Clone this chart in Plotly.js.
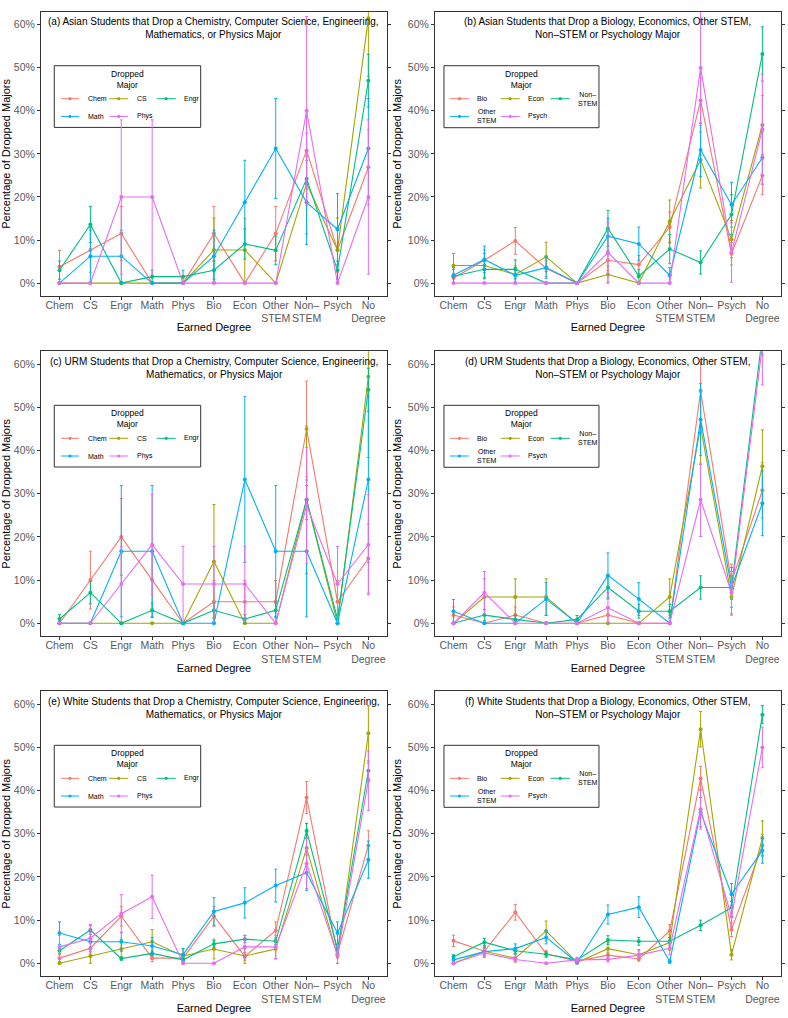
<!DOCTYPE html>
<html>
<head>
<meta charset="utf-8">
<script src="https://cdn.plot.ly/plotly-3.0.1.min.js"></script>
<style>
  html, body { margin: 0; padding: 0; background: #fff; }
  #chart { width: 788px; height: 1018px; }
</style>
</head>
<body>
<div id="chart"></div>
<script>
// categorias del eje x (titulo obtenido)
const degrees = ['Chem', 'CS', 'Engr', 'Math', 'Phys', 'Bio', 'Econ',
  'Other<br>STEM', 'Non–<br>STEM', 'Psych', 'No<br>Degree'];

// carreras abandonadas (leyendas)
const majorsPhysSci = ['Chem', 'CS', 'Engr', 'Math', 'Phys'];
const majorsOther = ['Bio', 'Econ', 'Non–<br>STEM', 'Other<br>STEM', 'Psych'];
const majorColors = ['#F8766D', '#A3A500', '#00BF7D', '#00B0F6', '#E76BF3'];

const yTicks = [0, 10, 20, 30, 40, 50, 60];
const yTickText = ['0%', '10%', '20%', '30%', '40%', '50%', '60%'];

const titles = [
  '(a) Asian Students that Drop a Chemistry, Computer Science, Engineering,<br>Mathematics, or Physics Major',
  '(b) Asian Students that Drop a Biology, Economics, Other STEM,<br>Non–STEM or Psychology Major',
  '(c) URM Students that Drop a Chemistry, Computer Science, Engineering,<br>Mathematics, or Physics Major',
  '(d) URM Students that Drop a Biology, Economics, Other STEM,<br>Non–STEM or Psychology Major',
  '(e) White Students that Drop a Chemistry, Computer Science, Engineering,<br>Mathematics, or Physics Major',
  '(f) White Students that Drop a Biology, Economics, Other STEM,<br>Non–STEM or Psychology Major'
];

// (a) Asian - Chem, CS, Engr, Math, Phys  (porcentaje y error estandar)
const pctA = [
  [3.8, 7.7, 11.5, 0, 0, 11.5, 0, 11.5, 30.8, 7.7, 26.9],
  [0, 0, 0, 0, 0, 7.7, 7.7, 0, 23.1, 7.7, 61.5],
  [3.0, 13.6, 0, 1.5, 1.5, 3.0, 9.1, 7.6, 24.2, 3.0, 47.0],
  [0, 6.25, 6.25, 0, 0, 6.25, 18.75, 31.25, 18.75, 12.5, 31.25],
  [0, 0, 20, 20, 0, 0, 0, 0, 40, 0, 20]
];
const seA = [
  [3.8, 5.2, 6.3, 0, 0, 6.3, 0, 6.3, 9.0, 5.2, 8.7],
  [0, 0, 0, 0, 0, 7.4, 7.4, 0, 11.7, 7.4, 13.5],
  [2.1, 4.2, 0, 1.5, 1.5, 2.1, 3.5, 3.3, 5.3, 2.1, 6.1],
  [0, 6.05, 6.05, 0, 0, 6.05, 9.76, 11.6, 9.76, 8.27, 11.6],
  [0, 0, 17.9, 17.9, 0, 0, 0, 0, 21.9, 0, 17.9]
];

// (b) Asian - Bio, Econ, Non-STEM, Other STEM, Psych
const pctB = [
  [1.2, 5.3, 9.8, 3.4, 0, 5.3, 4.3, 13.0, 42.4, 6.8, 25.0],
  [4.1, 4.1, 2.0, 6.1, 0, 2.0, 0, 14.3, 28.6, 10.2, 36.7],
  [1.6, 3.2, 3.2, 0, 0, 12.7, 1.6, 7.9, 4.8, 15.9, 53.2],
  [1.8, 5.5, 1.8, 3.6, 0, 10.9, 9.1, 1.8, 30.9, 18.2, 29.1],
  [0, 0, 0, 0, 0, 7.1, 0, 0, 50, 7.1, 35.7]
];
const seB = [
  [1.1, 2.4, 3.1, 1.9, 0, 2.4, 2.1, 3.5, 5.2, 2.6, 4.5],
  [2.8, 2.8, 2.0, 3.4, 0, 2.0, 0, 5.0, 6.5, 4.3, 6.9],
  [1.6, 2.2, 2.2, 0, 0, 4.2, 1.6, 3.4, 2.7, 4.6, 6.3],
  [1.8, 3.1, 1.8, 2.5, 0, 4.2, 3.9, 1.8, 6.2, 5.2, 6.1],
  [0, 0, 0, 0, 0, 6.9, 0, 0, 13.4, 6.9, 12.8]
];

// (c) URM - Chem, CS, Engr, Math, Phys
const pctC = [
  [0, 10, 20, 10, 0, 5, 5, 5, 45, 5, 15],
  [0, 0, 0, 0, 0, 14.3, 0, 0, 28.6, 0, 57.1],
  [1.0, 7.1, 0, 3.0, 0, 3.0, 1.0, 3.0, 28.6, 1.0, 54.1],
  [0, 0, 16.7, 16.7, 0, 0, 33.3, 16.7, 16.7, 0, 33.3],
  [0, 0, 9.1, 18.2, 9.1, 9.1, 9.1, 0, 27.3, 9.1, 18.2]
];
const seC = [
  [0, 6.7, 8.9, 6.7, 0, 4.9, 4.9, 4.9, 11.1, 4.9, 8.0],
  [0, 0, 0, 0, 0, 13.2, 0, 0, 17.1, 0, 18.7],
  [1.0, 2.6, 0, 1.7, 0, 1.7, 1.0, 1.7, 4.6, 1.0, 5.0],
  [0, 0, 15.2, 15.2, 0, 0, 19.2, 15.2, 15.2, 0, 19.2],
  [0, 0, 8.7, 11.6, 8.7, 8.7, 8.7, 0, 13.4, 8.7, 11.6]
];

// (d) URM - Bio, Econ, Non-STEM, Other STEM, Psych
const pctD = [
  [1.9, 0, 1.9, 0, 0, 1.9, 0, 0, 53.8, 9.6, 30.8],
  [0, 6.1, 6.1, 6.1, 0, 0, 0, 6.1, 45.5, 6.1, 36.4],
  [0, 1.9, 0.9, 0, 0.9, 8.3, 2.8, 2.8, 8.3, 8.3, 66.7],
  [2.8, 0, 0, 5.6, 0, 11.1, 5.6, 0, 47.2, 8.3, 27.8],
  [0, 7.1, 0, 0, 0, 3.6, 0, 0, 28.6, 7.1, 64.3]
];
const seD = [
  [1.9, 0, 1.9, 0, 0, 1.9, 0, 0, 6.9, 4.1, 6.4],
  [0, 4.2, 4.2, 4.2, 0, 0, 0, 4.2, 8.7, 4.2, 8.4],
  [0, 1.3, 0.9, 0, 0.9, 2.7, 1.6, 1.6, 2.7, 2.7, 4.5],
  [2.7, 0, 0, 3.8, 0, 5.2, 3.8, 0, 8.3, 4.6, 7.5],
  [0, 4.9, 0, 0, 0, 3.5, 0, 0, 8.5, 4.9, 9.1]
];

// (e) White - Chem, CS, Engr, Math, Phys
const pctE = [
  [1.2, 3.5, 10.9, 1.2, 1.2, 10.9, 1.6, 7.6, 38.4, 2.3, 27.3],
  [0, 1.7, 3.3, 5.0, 1.7, 3.3, 1.7, 3.3, 26.7, 1.7, 53.3],
  [2.9, 7.7, 1.1, 2.3, 0.8, 4.5, 5.6, 5.1, 30.7, 3.2, 44.6],
  [7, 5, 5, 4, 2, 12, 14, 18, 21, 7, 24],
  [3.8, 5.8, 11.5, 15.4, 0, 0, 3.8, 3.8, 23.1, 1.9, 42.3]
];
const seE = [
  [0.8, 1.4, 2.3, 0.8, 0.8, 2.3, 0.9, 2.0, 3.7, 1.1, 3.4],
  [0, 1.7, 2.3, 2.8, 1.7, 2.3, 1.7, 2.3, 5.7, 1.7, 6.4],
  [0.6, 1.0, 0.4, 0.55, 0.3, 0.75, 0.85, 0.8, 1.7, 0.65, 1.8],
  [2.6, 2.2, 2.2, 2.0, 1.4, 3.2, 3.5, 3.8, 4.1, 2.6, 4.3],
  [2.7, 3.2, 4.4, 5.0, 0, 0, 2.7, 2.7, 5.8, 1.9, 6.9]
];

// (f) White - Bio, Econ, Non-STEM, Other STEM, Psych
const pctF = [
  [5.2, 2.8, 11.8, 2.2, 0.5, 1.9, 1.0, 7.5, 42.8, 7.8, 27.3],
  [0, 2.8, 1.2, 7.5, 0.2, 3.4, 2.0, 4.8, 54.2, 2.0, 29.0],
  [1.5, 4.9, 2.9, 2.1, 0.8, 5.4, 5.1, 5.1, 8.8, 12.9, 57.6],
  [0.8, 2.7, 3.4, 6.0, 0.2, 11.3, 13.0, 0.4, 35.0, 16.0, 26.1],
  [0, 2.4, 0.9, 0, 0.8, 0.9, 1.9, 3.5, 35.7, 10.8, 50.0]
];
const seF = [
  [1.3, 0.9, 1.8, 0.8, 0.4, 0.7, 0.5, 1.5, 2.8, 1.6, 2.5],
  [0, 1.4, 0.9, 2.3, 0.3, 1.5, 1.2, 1.8, 4.1, 1.2, 4.0],
  [0.5, 0.9, 0.7, 0.6, 0.4, 1.0, 0.9, 0.9, 1.2, 1.4, 2.1],
  [0.6, 1.0, 1.1, 1.5, 0.3, 2.2, 2.4, 0.4, 3.4, 2.5, 2.9],
  [0, 1.0, 0.6, 0, 0.6, 0.6, 1.0, 1.5, 4.6, 2.4, 4.7]
];

const panelPct = [pctA, pctB, pctC, pctD, pctE, pctF];
const panelSe = [seA, seB, seC, seD, seE, seF];
const panelMajors = [majorsPhysSci, majorsOther, majorsPhysSci, majorsOther, majorsPhysSci, majorsOther];

// --- geometria ---
const W_PAGE = 788, H_PAGE = 1018;
const colDomains = [[0.052, 0.491], [0.552, 0.991]];
const rowDomains = [[0.7092, 0.9885], [0.3750, 0.6549], [0.0410, 0.3209]];
const FONT = 'Liberation Sans, Arial, Helvetica, sans-serif';

// posiciones de la leyenda en px, relativas a la esquina superior izquierda del panel
const legendGeom = {
  phys: { box: [13.3, 54, 159.7, 115.7], lines: [[20, 38], [68.3, 87.3], [115.7, 134.7]], labels: [44.7, 94, 140.7] },
  other: { box: [9, 54, 164, 116], lines: [[15, 34], [65.7, 84.7], [115.7, 134.7]], labels: [40, 90.7, 140.7] }
};
const legendRows = [87, 104.7];

const traces = [];
const shapes = [];
const annotations = [];
const layout = {
  width: W_PAGE,
  height: H_PAGE,
  margin: { l: 0, r: 0, t: 0, b: 0 },
  paper_bgcolor: '#fff',
  plot_bgcolor: '#fff',
  showlegend: false,
  font: { family: FONT, color: '#000' }
};

panelPct.forEach((pct, i) => {
  const s = i === 0 ? '' : String(i + 1);
  const col = i % 2, row = Math.floor(i / 2);
  const W = (colDomains[col][1] - colDomains[col][0]) * W_PAGE;
  const H = (rowDomains[row][1] - rowDomains[row][0]) * H_PAGE;
  const xr = 'x' + s + ' domain', yr = 'y' + s + ' domain';
  const fx = px => px / W;
  const fy = py => 1 - py / H;

  pct.forEach((vals, j) => {
    traces.push({
      x: degrees,
      y: vals,
      type: 'scatter',
      mode: 'lines+markers',
      name: panelMajors[i][j],
      xaxis: 'x' + s,
      yaxis: 'y' + s,
      line: { color: majorColors[j], width: 1.1 },
      marker: { color: majorColors[j], size: 4 },
      error_y: {
        type: 'data', array: panelSe[i][j], visible: true,
        color: majorColors[j], thickness: 1, width: 1.5
      },
      hovertemplate: '%{y}%<extra>' + panelMajors[i][j] + '</extra>'
    });
  });

  layout['xaxis' + s] = {
    domain: colDomains[col],
    anchor: 'y' + s,
    type: 'category',
    categoryorder: 'array',
    categoryarray: degrees,
    range: [-0.6, 10.6],
    showgrid: false,
    zeroline: false,
    showline: true, linecolor: '#333', linewidth: 1, mirror: true,
    ticks: 'outside', ticklen: 3, tickcolor: '#333', tickwidth: 1,
    tickangle: 0,
    ticklabelstandoff: -4,
    tickfont: { family: FONT, size: 10.5, color: '#595959' },
    title: { text: 'Earned Degree', font: { family: FONT, size: 11, color: '#000' }, standoff: 0 }
  };
  layout['yaxis' + s] = {
    domain: rowDomains[row],
    anchor: 'x' + s,
    range: [-3, 63],
    tickvals: yTicks,
    ticktext: yTickText,
    showgrid: false,
    zeroline: false,
    showline: true, linecolor: '#333', linewidth: 1, mirror: 'ticks',
    ticks: 'outside', ticklen: 3, tickcolor: '#333', tickwidth: 1,
    tickfont: { family: FONT, size: 10.5, color: '#595959' },
    title: { text: 'Percentage of Dropped Majors', font: { family: FONT, size: 11, color: '#000' }, standoff: 3 }
  };

  // titulo dentro del panel
  annotations.push({
    xref: xr, yref: yr, x: 0.5, y: 1, yshift: -16.5,
    xanchor: 'center', yanchor: 'middle',
    text: titles[i], showarrow: false,
    font: { family: FONT, size: 10, color: '#000' }
  });

  // leyenda dibujada a mano (3 columnas x 2 filas)
  const g = col === 0 ? legendGeom.phys : legendGeom.other;
  shapes.push({
    type: 'rect', xref: xr, yref: yr, layer: 'below',
    x0: fx(g.box[0]), x1: fx(g.box[2]), y0: fy(g.box[1]), y1: fy(g.box[3]),
    line: { color: '#333', width: 1 }, fillcolor: 'rgba(0,0,0,0)'
  });
  annotations.push({
    xref: xr, yref: yr, x: fx(86.7), y: fy(67.3),
    xanchor: 'center', yanchor: 'middle', showarrow: false,
    text: 'Dropped<br>Major', font: { family: FONT, size: 8.5, color: '#000' }
  });
  panelMajors[i].forEach((lab, j) => {
    const c = j % 3, r = Math.floor(j / 3);
    const yy = legendRows[r];
    const [lx0, lx1] = g.lines[c];
    const cx = (lx0 + lx1) / 2;
    shapes.push({
      type: 'line', xref: xr, yref: yr, layer: 'below',
      x0: fx(lx0), x1: fx(lx1), y0: fy(yy), y1: fy(yy),
      line: { color: majorColors[j], width: 1 }
    });
    shapes.push({
      type: 'circle', xref: xr, yref: yr, layer: 'below',
      x0: fx(cx - 1.6), x1: fx(cx + 1.6), y0: fy(yy - 1.6), y1: fy(yy + 1.6),
      line: { width: 0 }, fillcolor: majorColors[j]
    });
    annotations.push({
      xref: xr, yref: yr, x: fx(g.labels[c]), y: fy(yy),
      xanchor: 'left', yanchor: 'middle', showarrow: false,
      text: lab, font: { family: FONT, size: 7, color: '#000' }
    });
  });
});

layout.shapes = shapes;
layout.annotations = annotations;

Plotly.newPlot('chart', traces, layout, { displayModeBar: false, responsive: false });
</script>
</body>
</html>
